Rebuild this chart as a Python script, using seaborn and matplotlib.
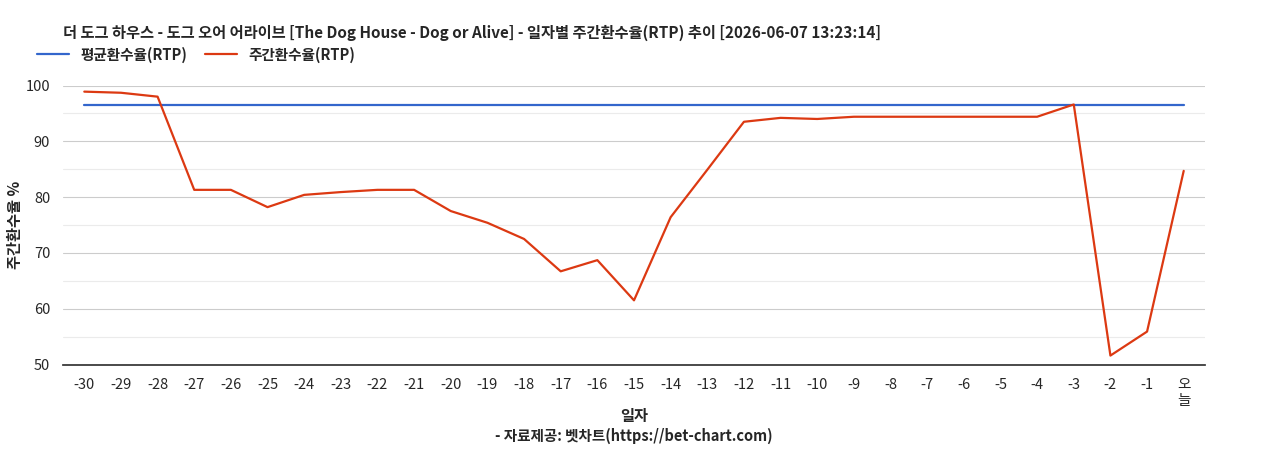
import matplotlib
matplotlib.use("Agg")
import matplotlib.pyplot as plt
import seaborn as sns
import pandas as pd

labels = [str(i) for i in range(-30, 0)] + ["오\n늘"]
weekly = [98.9, 98.7, 98.0, 81.3, 81.3, 78.2, 80.4, 80.9, 81.3, 81.3, 77.5, 75.4, 72.5, 66.7, 68.7, 61.5,
          76.4, 84.9, 93.5, 94.2, 94.0, 94.4, 94.4, 94.4, 94.4, 94.4, 94.4, 96.6, 51.6, 55.9, 84.7]
avg_rtp = 96.5

sns.set_theme(style="white")
plt.rcParams['font.family'] = ['Noto Sans CJK KR', 'DejaVu Sans']

df = pd.DataFrame({"x": range(len(labels)), "weekly": weekly, "avg": [avg_rtp]*len(labels)})
fig, ax = plt.subplots(figsize=(12.68, 4.5), dpi=100)
fig.subplots_adjust(left=0.05, right=0.95, top=0.81, bottom=0.19)

for y in range(50, 101, 5):
    ax.axhline(y, color="#cccccc" if y % 10 == 0 else "#ebebeb", lw=0.8, zorder=0)
sns.lineplot(data=df, x="x", y="avg", ax=ax, color="#3366cc", lw=1.6, label="평균환수율(RTP)")
sns.lineplot(data=df, x="x", y="weekly", ax=ax, color="#dc3912", lw=1.6, label="주간환수율(RTP)")

ax.set_xlim(-0.57, len(labels) - 0.43)
ax.set_ylim(50, 100)
ax.set_yticks(range(50, 101, 10))
ax.set_xticks(range(len(labels)))
ax.set_xticklabels(labels, fontsize=10.5)
ax.tick_params(axis='y', labelsize=10.5)
for s in ["top", "right", "left"]:
    ax.spines[s].set_visible(False)
ax.spines["bottom"].set_color("#333333")
ax.set_xlabel("일자", fontsize=11, fontweight="bold", labelpad=0)
ax.set_ylabel("주간환수율 %", fontsize=11, fontweight="bold", labelpad=2)
ax.legend(loc="lower left", bbox_to_anchor=(-0.035, 1.035), ncol=2, frameon=False,
          handlelength=2.2, columnspacing=1.2, prop={'weight': 'bold', 'size': 10.5})
fig.text(0.05, 0.915, "더 도그 하우스 - 도그 오어 어라이브 [The Dog House - Dog or Alive] - 일자별 주간환수율(RTP) 추이 [2026-06-07 13:23:14]",
         fontsize=11, fontweight="bold")
fig.text(0.5, 0.02, "- 자료제공: 벳차트(https://bet-chart.com)", ha="center", fontsize=10.5, fontweight="bold")
fig.savefig("out.png")
